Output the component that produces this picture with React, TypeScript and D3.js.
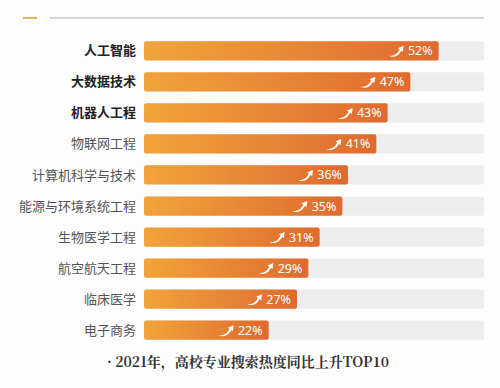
import React from 'react'
import * as d3 from 'd3'

const majors = ['人工智能', '大数据技术', '机器人工程', '物联网工程', '计算机科学与技术', '能源与环境系统工程', '生物医学工程', '航空航天工程', '临床医学', '电子商务']
const growth = [52, 47, 43, 41, 36, 35, 31, 29, 27, 22]
const boldCount = 3
const caption = '· 2021年，高校专业搜索热度同比上升TOP10'

const W = 500
const H = 388

// little rising swoosh drawn before each value
const swoosh = 'M0,5 C6,5.5 9,2.5 11,-1.5 L9,-2.5 L15,-5 L14.2,1.2 L12.6,-0.2 C10,5 5,7.5 0,5 Z'

export default function App() {
    const x = d3.scaleLinear().domain([0, 60]).range([144, 484])
    const y = d3.scaleBand<string>().domain(majors).range([35, 346]).paddingInner(0.38).paddingOuter(0.2)
    const bh = y.bandwidth()

    return (
        <svg width={W} height={H} style={{ position: 'absolute', left: 0, top: 0, background: '#fdfdfd' }}>
            <defs>
                <linearGradient id="barFill" x1="0" x2="1" y1="0" y2="0">
                    <stop offset="0%" stopColor="#F1A43B" />
                    <stop offset="100%" stopColor="#DF6A2E" />
                </linearGradient>
            </defs>
            <line x1={23} x2={37} y1={18} y2={18} stroke="#E8B45A" strokeWidth={2} />
            <line x1={50} x2={484} y1={18} y2={18} stroke="#d6d6d6" strokeWidth={2} />
            {majors.map((m, i) => {
                const yy = y(m) as number
                const end = x(growth[i])
                const cy = yy + bh / 2
                return (
                    <g key={m}>
                        <rect x={x(0)} y={yy} width={x(60) - x(0)} height={bh} rx={2} fill="#ededed" />
                        <rect x={x(0)} y={yy} width={end - x(0)} height={bh} rx={2} fill="url(#barFill)" />
                        <text x={136} y={cy} dy="0.35em" textAnchor="end"
                            fontFamily="'Noto Sans CJK SC', sans-serif" fontSize={13}
                            fontWeight={i < boldCount ? 700 : 400}
                            fill={i < boldCount ? '#222' : '#555'}>{m}</text>
                        <text x={end - 6} y={cy} dy="0.36em" textAnchor="end"
                            fontFamily="'Noto Sans', sans-serif" fontSize={12.5} fill="#fff">{growth[i] + '%'}</text>
                        <path d={swoosh} transform={`translate(${end - 50},${cy})`} fill="#fff" />
                    </g>
                )
            })}
            <text x={248} y={362} dy="0.35em" textAnchor="middle"
                fontFamily="'Noto Serif CJK SC', 'Noto Sans CJK SC', serif" fontSize={14} fontWeight={700} fill="#333">{caption}</text>
        </svg>
    )
}
